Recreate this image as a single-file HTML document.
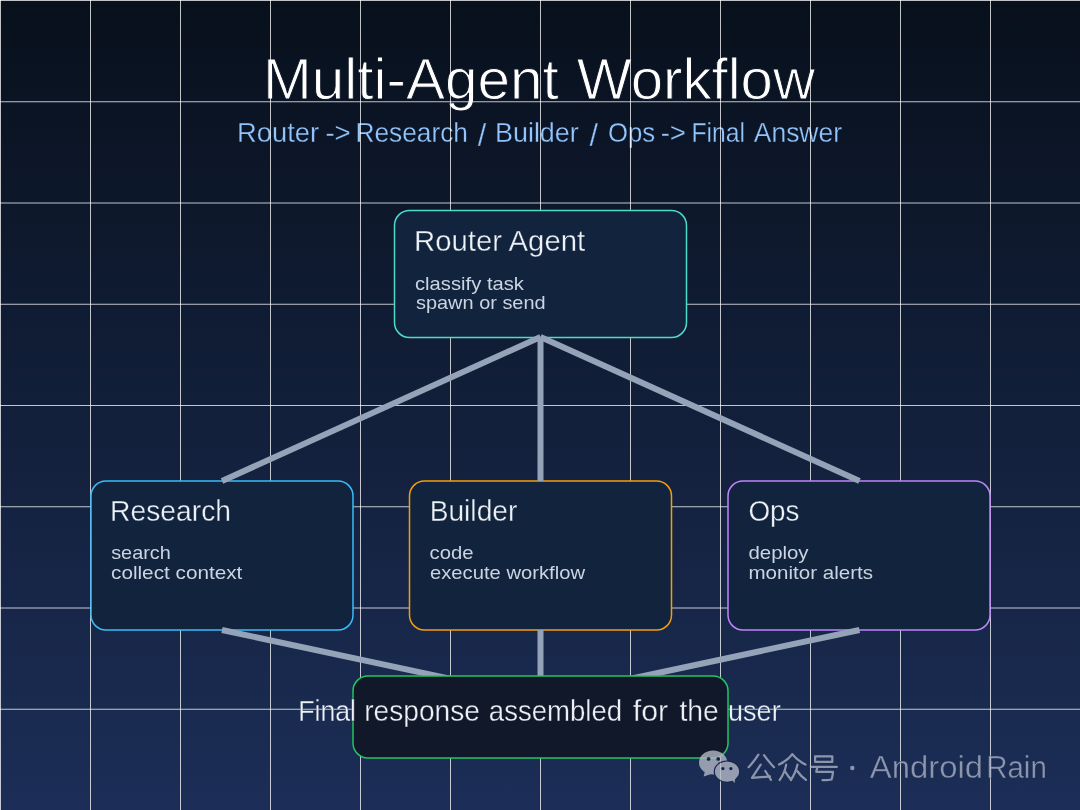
<!DOCTYPE html>
<html><head><meta charset="utf-8">
<style>
html,body{margin:0;padding:0;width:1080px;height:810px;overflow:hidden;background:#0b1220;}
svg{display:block;will-change:transform;}
text{font-family:"Liberation Sans",sans-serif;}
</style></head>
<body>
<svg width="1080" height="810" viewBox="0 0 1080 810">
<defs>
<linearGradient id="bg" x1="0" y1="0" x2="0" y2="1">
<stop offset="0" stop-color="#08101c"/>
<stop offset="1" stop-color="#1c2e57"/>
</linearGradient>
<linearGradient id="bgU" gradientUnits="userSpaceOnUse" x1="0" y1="0" x2="0" y2="810">
<stop offset="0" stop-color="#08101c"/>
<stop offset="1" stop-color="#1c2e57"/>
</linearGradient>
<clipPath id="cin"><rect x="353.75" y="676" width="373.5" height="82"/></clipPath>
<clipPath id="cout"><path clip-rule="evenodd" d="M0 0H1080V810H0Z M353.75 676V758H727.25V676Z"/></clipPath>
</defs>
<rect id="bgrect" x="0" y="0" width="1080" height="810" fill="url(#bg)"/>

<!-- title -->
<text id="t_title1" x="262.98" y="99.4" font-size="57.5" fill="#ffffff" stroke="url(#bgU)" stroke-width="1.0" textLength="295.83" lengthAdjust="spacingAndGlyphs">Multi-Agent</text>
<text id="t_title2" x="576.80" y="99.4" font-size="57.5" fill="#ffffff" stroke="url(#bgU)" stroke-width="1.0" textLength="238.19" lengthAdjust="spacingAndGlyphs">Workflow</text>
<text id="t_sub0" x="237.04" y="141.5" font-size="27.6" fill="#93c5fd" stroke="url(#bgU)" stroke-width="0.3" textLength="81.97" lengthAdjust="spacingAndGlyphs">Router</text>
<text id="t_sub1" x="325.39" y="141.5" font-size="27.6" fill="#93c5fd" stroke="url(#bgU)" stroke-width="0.3">-&gt;</text>
<text id="t_sub2" x="355.39" y="141.5" font-size="27.6" fill="#93c5fd" stroke="url(#bgU)" stroke-width="0.3" textLength="112.61" lengthAdjust="spacingAndGlyphs">Research</text>
<text id="t_sub3" x="477.74" y="145.7" font-size="30.5" fill="#93c5fd" stroke="url(#bgU)" stroke-width="0.3">/</text>
<text id="t_sub4" x="494.95" y="141.5" font-size="27.6" fill="#93c5fd" stroke="url(#bgU)" stroke-width="0.3" textLength="83.88" lengthAdjust="spacingAndGlyphs">Builder</text>
<text id="t_sub5" x="589.44" y="145.7" font-size="30.5" fill="#93c5fd" stroke="url(#bgU)" stroke-width="0.3">/</text>
<text id="t_sub6" x="608.03" y="141.5" font-size="27.6" fill="#93c5fd" stroke="url(#bgU)" stroke-width="0.3" textLength="47.13" lengthAdjust="spacingAndGlyphs">Ops</text>
<text id="t_sub7" x="660.64" y="141.5" font-size="27.6" fill="#93c5fd" stroke="url(#bgU)" stroke-width="0.3">-&gt;</text>
<text id="t_sub8" x="691.44" y="141.5" font-size="27.6" fill="#93c5fd" stroke="url(#bgU)" stroke-width="0.3" textLength="53.53" lengthAdjust="spacingAndGlyphs">Final</text>
<text id="t_sub9" x="753.80" y="141.5" font-size="27.6" fill="#93c5fd" stroke="url(#bgU)" stroke-width="0.3" textLength="88.20" lengthAdjust="spacingAndGlyphs">Answer</text>

<!-- grid -->
<g id="grid" stroke="rgba(255,255,255,0.75)" stroke-width="1">
<path shape-rendering="crispEdges" d="M0.5 0V810M90.5 0V810M180.5 0V810M270.5 0V810M360.5 0V810M450.5 0V810M540.5 0V810M630.5 0V810M720.5 0V810M810.5 0V810M900.5 0V810M990.5 0V810"/>
<path d="M0 0.5H1080M0 101.76H1080M0 203.0H1080M0 304.26H1080M0 405.5H1080M0 506.76H1080M0 608.0H1080M0 709.26H1080"/>
</g>

<!-- boxes -->
<rect x="394.5" y="210.5" width="292" height="127" rx="15" fill="#11233d" stroke="#4fdcc6" stroke-width="1.5"/>
<rect x="91" y="481" width="262" height="149" rx="15" fill="#11233d" stroke="#38bdf8" stroke-width="1.5"/>
<rect x="409.5" y="481" width="262" height="149" rx="15" fill="#11233d" stroke="#f59e0b" stroke-width="1.5"/>
<rect x="728" y="481" width="262" height="149" rx="15" fill="#11233d" stroke="#c084fc" stroke-width="1.5"/>

<!-- connectors -->
<g stroke="#94a3b8" stroke-width="6" fill="none">
<line x1="540.5" y1="337" x2="222" y2="481"/>
<line x1="540.5" y1="337" x2="540.5" y2="481"/>
<line x1="540.5" y1="337" x2="859.5" y2="481"/>
<line x1="222" y1="630" x2="540.5" y2="698"/>
<line x1="540.5" y1="630" x2="540.5" y2="698"/>
<line x1="859.5" y1="630" x2="540.5" y2="698"/>
</g>

<rect x="353" y="676" width="375" height="82" rx="15" fill="#111829" stroke="#22c55e" stroke-width="1.5"/>

<!-- box texts -->
<text id="t_router" x="414.03" y="250.6" font-size="29" fill="#eef2f7" stroke="#11233d" stroke-width="0.35" textLength="171.18" lengthAdjust="spacingAndGlyphs">Router Agent</text>
<text id="t_research" x="110.00" y="520.8" font-size="29" fill="#eef2f7" stroke="#11233d" stroke-width="0.35" textLength="121.00" lengthAdjust="spacingAndGlyphs">Research</text>
<text id="t_builder" x="429.63" y="520.8" font-size="29" fill="#eef2f7" stroke="#11233d" stroke-width="0.35" textLength="87.77" lengthAdjust="spacingAndGlyphs">Builder</text>
<text id="t_ops" x="748.42" y="520.8" font-size="29" fill="#eef2f7" stroke="#11233d" stroke-width="0.35" textLength="51.15" lengthAdjust="spacingAndGlyphs">Ops</text>
<text id="t_classify" x="415.03" y="289.6" font-size="19" fill="#cbd5e1" textLength="108.97" lengthAdjust="spacingAndGlyphs">classify task</text>
<text id="t_spawn" x="416.00" y="308.9" font-size="19" fill="#cbd5e1" textLength="129.59" lengthAdjust="spacingAndGlyphs">spawn or send</text>
<text id="t_search" x="111.20" y="559.3" font-size="19" fill="#cbd5e1" textLength="59.58" lengthAdjust="spacingAndGlyphs">search</text>
<text id="t_collect" x="111.02" y="578.9" font-size="19" fill="#cbd5e1" textLength="131.38" lengthAdjust="spacingAndGlyphs">collect context</text>
<text id="t_code" x="429.62" y="559.3" font-size="19" fill="#cbd5e1" textLength="44.01" lengthAdjust="spacingAndGlyphs">code</text>
<text id="t_execute" x="430.00" y="578.9" font-size="19" fill="#cbd5e1" textLength="155.00" lengthAdjust="spacingAndGlyphs">execute workflow</text>
<text id="t_deploy" x="748.43" y="559.3" font-size="19" fill="#cbd5e1" textLength="60.17" lengthAdjust="spacingAndGlyphs">deploy</text>
<text id="t_monitor" x="748.41" y="578.9" font-size="19" fill="#cbd5e1" textLength="124.59" lengthAdjust="spacingAndGlyphs">monitor alerts</text>

<!-- final text -->
<text id="t_fw0" x="298.19" y="721.4" font-size="29" fill="#eef2f7" stroke="#111829" stroke-width="0.35" clip-path="url(#cin)" textLength="57.80" lengthAdjust="spacingAndGlyphs">Final</text>
<text id="t_fw0b" x="298.19" y="721.4" font-size="29" fill="#eef2f7" stroke="url(#bgU)" stroke-width="0.35" clip-path="url(#cout)" textLength="57.80" lengthAdjust="spacingAndGlyphs">Final</text>
<text id="t_fw1" x="364.21" y="721.4" font-size="29" fill="#eef2f7" stroke="#111829" stroke-width="0.35" clip-path="url(#cin)" textLength="115.78" lengthAdjust="spacingAndGlyphs">response</text>
<text id="t_fw2" x="488.80" y="721.4" font-size="29" fill="#eef2f7" stroke="#111829" stroke-width="0.35" clip-path="url(#cin)" textLength="133.38" lengthAdjust="spacingAndGlyphs">assembled</text>
<text id="t_fw3" x="632.81" y="721.4" font-size="29" fill="#eef2f7" stroke="#111829" stroke-width="0.35" clip-path="url(#cin)" textLength="35.40" lengthAdjust="spacingAndGlyphs">for</text>
<text id="t_fw4" x="679.39" y="721.4" font-size="29" fill="#eef2f7" stroke="#111829" stroke-width="0.35" clip-path="url(#cin)" textLength="39.37" lengthAdjust="spacingAndGlyphs">the</text>
<text id="t_fw5" x="728.10" y="721.4" font-size="29" fill="#eef2f7" stroke="#111829" stroke-width="0.35" clip-path="url(#cin)" textLength="52.53" lengthAdjust="spacingAndGlyphs">user</text>
<text id="t_fw5b" x="728.10" y="721.4" font-size="29" fill="#eef2f7" stroke="url(#bgU)" stroke-width="0.35" clip-path="url(#cout)" textLength="52.53" lengthAdjust="spacingAndGlyphs">user</text>

<!-- watermark -->
<g opacity="0.8">
<g fill="#b4b9c6">
<ellipse cx="713.1" cy="762.5" rx="14.1" ry="12"/>
<path d="M705 771 L703.6 776.4 L710.5 774.3 Z"/>
</g>
<ellipse cx="727" cy="771.6" rx="13.3" ry="11.1" fill="#16254a"/>
<g fill="#b4b9c6">
<ellipse cx="727" cy="771.6" rx="12.1" ry="10.1"/>
<path d="M731 779 L734.5 783 L735.5 777 Z"/>
</g>
<g fill="#13203f">
<circle cx="708.6" cy="758.9" r="1.9"/><circle cx="718.2" cy="758.9" r="1.9"/>
<circle cx="722.9" cy="768.6" r="1.6"/><circle cx="730.9" cy="768.6" r="1.6"/>
</g>
<g stroke="#a9b0c1" stroke-width="2.2" fill="none" stroke-linecap="round" stroke-linejoin="round">
<path d="M758.4 754.7 Q754 761.5 748.6 767.2"/>
<path d="M764 755.2 Q768.5 761.5 774 767.2"/>
<path d="M760.7 764.7 L752 777.8 Q761 777.3 770 776.3"/>
<path d="M765.3 771 L771 779.8"/>
<path d="M792.3 754.3 Q787 761 779 764.5"/>
<path d="M792.3 754.3 Q798 761 805.5 764.5"/>
<path d="M786.2 764.6 Q784.5 773.5 779.6 780"/>
<path d="M785.2 771.5 Q788 776.5 791.2 779.6"/>
<path d="M797.5 764.6 Q795.5 773.5 790.8 780"/>
<path d="M797.2 771 Q801 776.5 806 779.8"/>
<path d="M815.1 756.3 H832.3 V761.9 H815.1 Z"/>
<path d="M810.7 766.9 H836.8"/>
<path d="M817.3 767.5 L816.2 771.8 H833 Q832.5 777 831.5 779.5 Q829.5 780.2 822.5 780.2"/>
</g>
<circle cx="852.3" cy="768" r="2.2" fill="#a9b0c1"/>
<text id="t_wm1" x="869.80" y="778.3" font-size="31" fill="#a9b0c1" stroke="#1b2c54" stroke-width="0.4" textLength="113.37" lengthAdjust="spacingAndGlyphs">Android</text>
<text id="t_wm2" x="986.18" y="778.3" font-size="31" fill="#a9b0c1" stroke="#1b2c54" stroke-width="0.4" textLength="60.66" lengthAdjust="spacingAndGlyphs">Rain</text>
</g>
</svg>
</body></html>
